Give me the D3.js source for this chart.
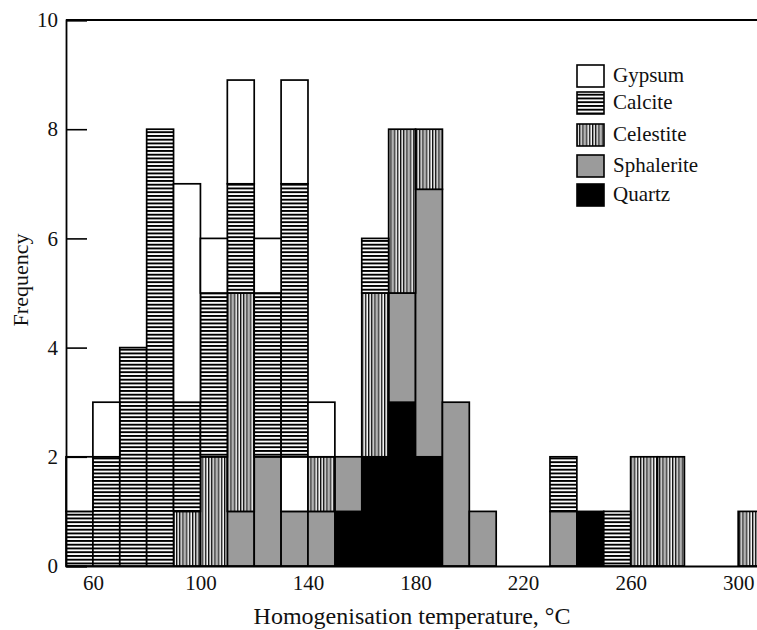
<!DOCTYPE html>
<html>
<head>
<meta charset="utf-8">
<script src="https://cdn.jsdelivr.net/npm/d3@7"></script>
<style>
  html, body { margin: 0; padding: 0; background: #fff; }
  svg { display: block; }
  text { font-family: "Liberation Serif", "Times New Roman", serif; fill: #111; }
</style>
</head>
<body>
<svg id="chart" width="757" height="630"></svg>
<script>
// Homogenisation temperature histogram, 10 °C bins (bin start values)
const binStart   = [50, 60, 70, 80, 90, 100, 110, 120, 130, 140, 150, 160, 170, 180, 190, 200, 210, 220, 230, 240, 250, 260, 270, 280, 290, 300];
const quartz     = [0, 0, 0, 0, 0, 0, 0, 0, 0, 0, 1, 2, 3, 2, 0, 0, 0, 0, 0, 1, 0, 0, 0, 0, 0, 0];
const sphalerite = [0, 0, 0, 0, 0, 0, 1, 2, 1, 1, 1, 0, 2, 4.9, 3, 1, 0, 0, 1, 0, 0, 0, 0, 0, 0, 0];
const gypsumLow  = [0, 0, 0, 0, 0, 0, 0, 0, 1, 0, 0, 0, 0, 0, 0, 0, 0, 0, 0, 0, 0, 0, 0, 0, 0, 0];
const celestite  = [0, 0, 0, 0, 1, 2, 4, 0, 0, 1, 0, 3, 3, 1.1, 0, 0, 0, 0, 0, 0, 0, 2, 2, 0, 0, 1];
const calcite    = [1, 2, 4, 8, 2, 3, 2, 3, 5, 0, 0, 1, 0, 0, 0, 0, 0, 0, 1, 0, 1, 0, 0, 0, 0, 0];
const gypsum     = [1, 1, 0, 0, 4, 1, 1.9, 1, 1.9, 1, 0, 0, 0, 0, 0, 0, 0, 0, 0, 0, 0, 0, 0, 0, 0, 0];

const legendNames = ["Gypsum", "Calcite", "Celestite", "Sphalerite", "Quartz"];
const yTicks = [0, 2, 4, 6, 8, 10];
const xTicks = [60, 100, 140, 180, 220, 260, 300];
const binWidth = 10;

const svg = d3.select("#chart");
const W = 757, H = 630;
const margin = { left: 66, top: 20, bottom: 64 };

const x = d3.scaleLinear().domain([50, 307]).range([margin.left, W]);
const y = d3.scaleLinear().domain([0, 10]).range([H - margin.bottom, margin.top]);

// fills
const defs = svg.append("defs");
const hp = defs.append("pattern").attr("id", "pat-calcite")
  .attr("patternUnits", "userSpaceOnUse").attr("width", 8).attr("height", 3.75);
hp.append("rect").attr("width", 8).attr("height", 3.75).attr("fill", "#fff");
hp.append("rect").attr("y", 0).attr("width", 8).attr("height", 1.9).attr("fill", "#000");

const vp = defs.append("pattern").attr("id", "pat-celestite")
  .attr("patternUnits", "userSpaceOnUse").attr("width", 3.2).attr("height", 8);
vp.append("rect").attr("width", 3.2).attr("height", 8).attr("fill", "#fff");
vp.append("rect").attr("x", 0).attr("width", 1.2).attr("height", 8).attr("fill", "#000");
vp.append("rect").attr("x", 1.2).attr("width", 1.0).attr("height", 8).attr("fill", "#8a8a8a");

const fills = {
  quartz: "#000",
  sphalerite: "#9b9b9b",
  gypsumLow: "#fff",
  celestite: "url(#pat-celestite)",
  calcite: "url(#pat-calcite)",
  gypsum: "#fff"
};

// stacked table built from the series arrays
const keys = ["quartz", "sphalerite", "gypsumLow", "celestite", "calcite", "gypsum"];
const seriesArrays = { quartz, sphalerite, gypsumLow, celestite, calcite, gypsum };
const table = binStart.map((b, i) => {
  const row = { bin: b };
  keys.forEach(k => row[k] = seriesArrays[k][i]);
  return row;
});
const stacked = d3.stack().keys(keys)(table);

const bars = svg.append("g").attr("class", "bars");
stacked.forEach(layer => {
  bars.append("g")
    .selectAll("rect")
    .data(layer.filter(d => d[1] - d[0] > 0))
    .join("rect")
    .attr("x", d => x(d.data.bin))
    .attr("width", d => x(d.data.bin + binWidth) - x(d.data.bin))
    .attr("y", d => y(d[1]))
    .attr("height", d => y(d[0]) - y(d[1]))
    .attr("fill", fills[layer.key])
    .attr("stroke", "#000")
    .attr("stroke-width", 1.7);
});

// frame: top line, left and bottom axes
const axisColor = "#000";
svg.append("line")
  .attr("x1", margin.left).attr("x2", W)
  .attr("y1", y(10)).attr("y2", y(10))
  .attr("stroke", axisColor).attr("stroke-width", 1.8);

const yAxis = svg.append("g")
  .attr("transform", `translate(${margin.left},0)`)
  .call(d3.axisLeft(y).tickValues(yTicks).tickSize(-21).tickPadding(8).tickFormat(d3.format("d")));
yAxis.select(".domain").attr("stroke", axisColor).attr("stroke-width", 1.8);
yAxis.selectAll(".tick line").attr("stroke", axisColor).attr("stroke-width", 1.6);
yAxis.selectAll("text").attr("font-size", 21).attr("font-family", "Liberation Serif").attr("fill", "#111");

const xAxis = svg.append("g")
  .attr("transform", `translate(0,${y(0)})`)
  .call(d3.axisBottom(x).tickValues(xTicks).tickSize(0).tickPadding(9).tickFormat(d3.format("d")));
xAxis.select(".domain").attr("stroke", axisColor).attr("stroke-width", 1.8);
xAxis.selectAll("text").attr("font-size", 21).attr("font-family", "Liberation Serif").attr("fill", "#111");

// axis titles
svg.append("text")
  .attr("x", 412).attr("y", 624)
  .attr("text-anchor", "middle")
  .attr("font-size", 24)
  .text("Homogenisation temperature, °C");

svg.append("text")
  .attr("transform", `translate(28,${280}) rotate(-90)`)
  .attr("text-anchor", "middle")
  .attr("font-size", 22)
  .text("Frequency");

// legend
const legendFills = ["#fff", "url(#pat-calcite)", "url(#pat-celestite)", "#9b9b9b", "#000"];
const legendTop = [65, 92, 124, 155, 184];
const legend = svg.append("g").attr("class", "legend");
legendNames.forEach((name, i) => {
  legend.append("rect")
    .attr("x", 577).attr("y", legendTop[i])
    .attr("width", 27).attr("height", 22)
    .attr("fill", legendFills[i])
    .attr("stroke", "#000").attr("stroke-width", 1.6);
  legend.append("text")
    .attr("x", 613).attr("y", legendTop[i] + 17)
    .attr("font-size", 21)
    .text(name);
});
</script>
</body>
</html>
